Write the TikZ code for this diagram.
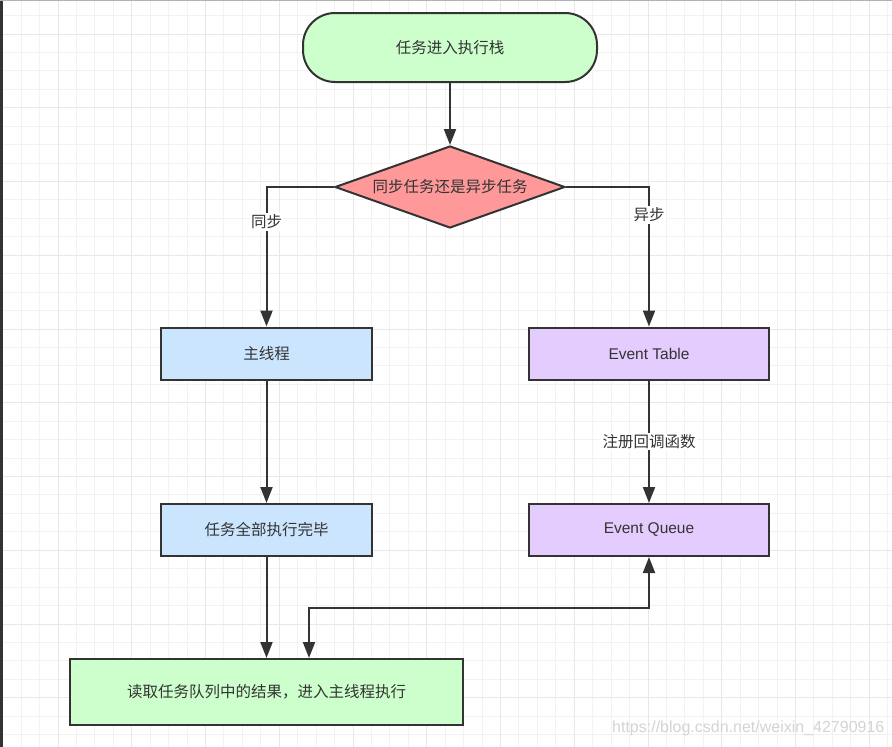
\documentclass[tikz,border=0pt]{standalone}
\usepackage{fontspec}
\setmainfont{Liberation Sans}
\newfontfamily\cjk{Noto Sans CJK SC}
\usetikzlibrary{shapes.geometric,arrows.meta}
\definecolor{ink}{HTML}{333333}
\definecolor{gmin}{HTML}{F2F2F2}
\definecolor{gmaj}{HTML}{E8E8E8}
\definecolor{cgreen}{HTML}{CCFFCC}
\definecolor{cred}{HTML}{FF9999}
\definecolor{cblue}{HTML}{CCE5FF}
\definecolor{cpurple}{HTML}{E5CCFF}
\definecolor{wm}{HTML}{D4D4D4}
\tikzset{
  boxbase/.style={draw=ink, line width=2pt, text=ink, font=\cjk\fontsize{15.5}{18}\selectfont, inner sep=0pt},
  startbox/.style={boxbase, fill=cgreen, rectangle, rounded corners=32pt, minimum width=294pt, minimum height=69pt},
  decbox/.style={boxbase, fill=cred, diamond, aspect=2.8, minimum width=230pt, minimum height=82pt},
  bluebox/.style={boxbase, fill=cblue, rectangle, minimum width=211pt, minimum height=52pt},
  purplebox/.style={boxbase, fill=cpurple, rectangle, minimum width=240pt, minimum height=52pt},
  endbox/.style={boxbase, fill=cgreen, rectangle, minimum width=393pt, minimum height=66pt},
  conn/.style={draw=ink, line width=2pt, -{Triangle[length=16pt,width=12pt]}},
  conn2/.style={draw=ink, line width=2pt, {Triangle[length=16pt,width=12pt]}-{Triangle[length=16pt,width=12pt]}},
  lbl/.style={fill=white, text=ink, font=\cjk\fontsize{15.5}{18}\selectfont, inner sep=1.5pt},
  minorline/.style={draw=gmin, line width=1pt},
  majorline/.style={draw=gmaj, line width=1pt}
}
\begin{document}
\begin{tikzpicture}[x=1pt,y=-1pt]
\useasboundingbox (0,0) rectangle (892,747);
\fill[white] (0,0) rectangle (892,747);
% grid: minor lines
\foreach \i in {-3,...,45} {
  \draw[minorline] ({58+18.4375*\i},0) -- ({58+18.4375*\i},747);
}
\foreach \j in {-1,...,39} {
  \draw[minorline] (0,{34+18.4375*\j}) -- (892,{34+18.4375*\j});
}
% grid: major lines
\foreach \k in {0,...,11} {
  \draw[majorline] ({58+73.75*\k},0) -- ({58+73.75*\k},747);
}
\foreach \k in {0,...,9} {
  \draw[majorline] (0,{34+73.75*\k}) -- (892,{34+73.75*\k});
}
% screenshot edges
\fill[ink] (0,0) rectangle (2.5,747);
\fill[gray!60] (0,0) rectangle (892,1.2);

% nodes
\node[startbox] (start) at (450,47.5) {任务进入执行栈};
\node[decbox] (dec) at (450,187) {同步任务还是异步任务};
\node[bluebox] (main) at (266.5,353.5) {主线程};
\node[bluebox] (done) at (266.5,530) {任务全部执行完毕};
\node[purplebox] (et) at (649,353.5) {\fontspec{Liberation Sans}Event Table};
\node[purplebox] (eq) at (649,530) {\fontspec{Liberation Sans}Event Queue};
\node[endbox] (final) at (266.5,692) {读取任务队列中的结果，进入主线程执行};
\coordinate (fb) at (309,608);

% connectors
\draw[conn] (start) -- (dec);
\draw[conn] (dec.west) -| (main.north) node[lbl, pos=0.625] {同步};
\draw[conn] (dec.east) -| (et.north) node[lbl, pos=0.6] {异步};
\draw[conn] (main) -- (done);
\draw[conn] (et) -- (eq) node[lbl, midway] {注册回调函数};
\draw[conn] (done.south) -- (done.south |- final.north);
\draw[conn2] (eq.south) |- (fb) -- (fb |- final.north);

% watermark
\node[anchor=west, text=wm, font=\fontsize{16}{18}\selectfont, inner sep=0pt] (wmark) at (612,728) {https://blog.csdn.net/weixin\_42790916};
\end{tikzpicture}
\end{document}
